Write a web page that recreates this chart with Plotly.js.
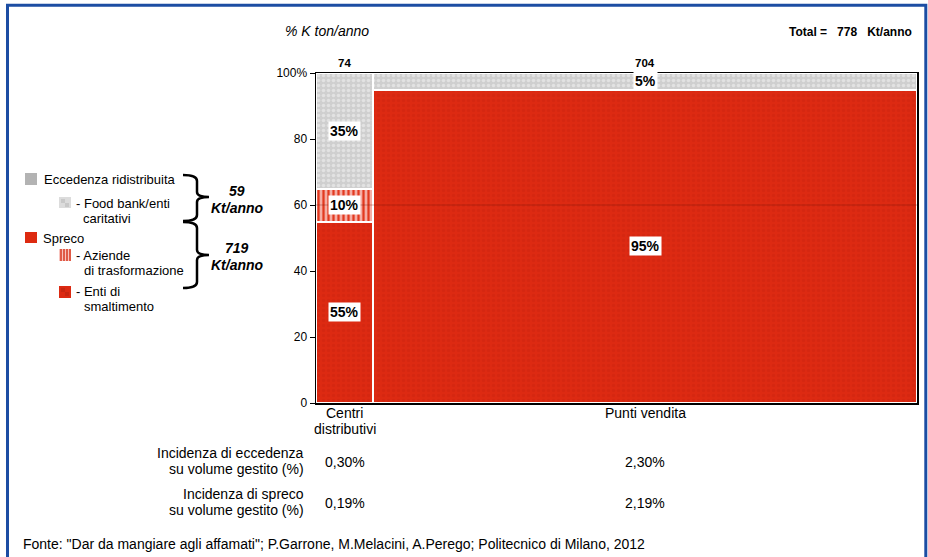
<!DOCTYPE html>
<html>
<head>
<meta charset="utf-8">
<script src="https://cdn.plot.ly/plotly-3.0.1.min.js"></script>
<style>html,body{margin:0;padding:0;background:#fff;}#chart{width:928px;height:557px;}</style>
</head>
<body>
<div id="chart"></div>
<script>
// ---- data ----
const categories = ['Centri<br>distributivi', 'Punti vendita'];
const volumes = [74, 704];                 // Kt/anno per channel (bar widths)
const smaltimento = [55, 95];              // % Enti di smaltimento
const trasformazione = [10, 0];            // % Aziende di trasformazione
const foodbank = [35, 5];                  // % Food bank/enti caritativi
const incidenzaEccedenza = ['0,30%', '2,30%'];
const incidenzaSpreco = ['0,19%', '2,19%'];
const eccedenzaTot = 59;
const sprecoTot = 719;

// ---- derived ----
const total = volumes.reduce((a, b) => a + b, 0);
const starts = [];
let acc = 0;
volumes.forEach(v => { starts.push(acc); acc += v; });
const centers = volumes.map((v, i) => starts[i] + v / 2);

const FONT = 'Liberation Sans, Arial, Helvetica, sans-serif';
const RED = '#dd2a12';

const L = 316, R = 917, T = 73, B = 403;
const px = x => (x - L) / (R - L);
const py = y => (B - y) / (B - T);

function barTrace(name, vals, pattern, color) {
  return {
    type: 'bar', name: name, x: centers, y: vals, width: volumes,
    marker: { color: color, line: { color: '#ffffff', width: 2 }, pattern: pattern },
    hoverinfo: 'skip', showlegend: false
  };
}

const traces = [
  barTrace('Enti di smaltimento', smaltimento,
    { shape: '.', bgcolor: RED, fgcolor: '#c8240e', fgopacity: 0.4, size: 5, solidity: 0.35 }, RED),
  barTrace('Aziende di trasformazione', trasformazione,
    { shape: '|', bgcolor: '#f5ada4', fgcolor: '#e2391f', fgopacity: 1, size: 5, solidity: 0.45 }, '#f5ada4'),
  barTrace('Food bank/enti caritativi', foodbank,
    { shape: '.', bgcolor: '#cfcfcf', fgcolor: '#e2e2e2', fgopacity: 1, size: 5, solidity: 0.4 }, '#cfcfcf')
];

const annotations = [];
function ann(x, y, text, o) {
  annotations.push(Object.assign({
    xref: 'paper', yref: 'paper', x: x, y: y, text: text, showarrow: false,
    xanchor: 'left', yanchor: 'middle', font: { family: FONT, size: 13, color: '#000' }
  }, o || {}));
}
function dataAnn(xv, ypix, text, size) {
  annotations.push({
    xref: 'x', yref: 'paper', x: xv, y: py(ypix), yanchor: 'middle', text: text,
    showarrow: false, font: { family: FONT, size: size || 14, color: '#000' }
  });
}

// segment labels
const series = [smaltimento, trasformazione, foodbank];
volumes.forEach((v, i) => {
  let base = 0;
  series.forEach(s => {
    const val = s[i];
    if (val > 0) {
      annotations.push({
        xref: 'x', yref: 'y', x: centers[i], y: base + val / 2, text: '<b>' + val + '%</b>',
        showarrow: false, bgcolor: '#ffffff', borderpad: 1,
        font: { family: FONT, size: 14, color: '#000' }
      });
    }
    base += val;
  });
  // volume on top
  annotations.push({
    xref: 'x', yref: 'y', x: centers[i], y: 100, yshift: 10, text: '<b>' + v + '</b>',
    showarrow: false, font: { family: FONT, size: 11.5, color: '#000' }
  });
  // category label (one annotation per line)
  categories[i].split('<br>').forEach((ln, k) => dataAnn(centers[i], 413 + 16 * k, ln));
  dataAnn(centers[i], 462, incidenzaEccedenza[i]);
  dataAnn(centers[i], 503, incidenzaSpreco[i]);
});

// row labels
const rowFont = { family: FONT, size: 14, color: '#000' };
ann(px(306), py(453), 'Incidenza di eccedenza', { xanchor: 'right', font: rowFont });
ann(px(306), py(469), 'su volume gestito (%)', { xanchor: 'right', font: rowFont });
ann(px(306), py(494), 'Incidenza di spreco', { xanchor: 'right', font: rowFont });
ann(px(306), py(510), 'su volume gestito (%)', { xanchor: 'right', font: rowFont });

// titles
ann(px(283), py(31), '% K ton/anno', { font: { family: FONT, size: 14, color: '#000', style: 'italic' } });
ann(px(914), py(32), '<b>Total =   ' + total + '   Kt/anno</b>', { xanchor: 'right', font: { family: FONT, size: 12, color: '#000' } });

// source
ann(px(21), py(544), 'Fonte: "Dar da mangiare agli affamati"; P.Garrone, M.Melacini, A.Perego; Politecnico di Milano, 2012', { font: { family: FONT, size: 14, color: '#000' } });

// legend texts
ann(px(42), py(179), 'Eccedenza ridistribuita');
ann(px(74), py(203), '- Food bank/enti');
ann(px(81), py(218), 'caritativi');
ann(px(41), py(238), 'Spreco');
ann(px(74), py(255), '- Aziende');
ann(px(82), py(270), 'di trasformazione');
ann(px(74), py(291), '- Enti di');
ann(px(82), py(306), 'smaltimento');

// brace totals
const bi = { family: FONT, size: 14, color: '#000' };
ann(px(237), py(191), '<b><i>' + eccedenzaTot + '</i></b>', { xanchor: 'center', font: bi });
ann(px(237), py(208), '<b><i>Kt/anno</i></b>', { xanchor: 'center', font: bi });
ann(px(237), py(248), '<b><i>' + sprecoTot + '</i></b>', { xanchor: 'center', font: bi });
ann(px(237), py(265), '<b><i>Kt/anno</i></b>', { xanchor: 'center', font: bi });

// shapes
const shapes = [];
function rect(x0, y0, x1, y1, fill, lineColor, lw) {
  shapes.push({ type: 'rect', xref: 'paper', yref: 'paper', x0: px(x0), x1: px(x1), y0: py(y1), y1: py(y0),
    fillcolor: fill, line: { color: lineColor || fill, width: lw || 0 }, layer: 'above' });
}
function line(x0, y0, x1, y1, color, w) {
  shapes.push({ type: 'line', xref: 'paper', yref: 'paper', x0: px(x0), x1: px(x1), y0: py(y0), y1: py(y1),
    line: { color: color, width: w }, layer: 'above' });
}
// legend swatches
rect(25, 173, 37, 185, '#b3b3b3');
rect(59, 197, 71, 208, '#dcdcdc');
rect(61, 199, 65, 203, '#c8c8c8'); rect(65, 203, 69, 207, '#c8c8c8');
rect(25, 232, 37, 243, '#dd2a10');
rect(59, 249, 71, 261, '#f8c4be');
[61, 64, 67, 70].forEach(x => line(x, 249, x, 261, '#d8371f', 1.5));
rect(59, 286, 71, 298, '#dc2a12');
rect(61, 288, 65, 292, '#c72610'); rect(65, 292, 69, 296, '#c72610');

// braces
function brace(xl, xm, xt, yt, ym, yb) {
  const P = (x, y) => px(x) + ',' + py(y);
  const path = 'M' + P(xl, yt) + ' Q' + P(xm, yt) + ' ' + P(xm, yt + 6) +
    ' L' + P(xm, ym - 5) + ' Q' + P(xm, ym) + ' ' + P(xt, ym) +
    ' Q' + P(xm, ym) + ' ' + P(xm, ym + 5) +
    ' L' + P(xm, yb - 6) + ' Q' + P(xm, yb) + ' ' + P(xl, yb);
  shapes.push({ type: 'path', xref: 'paper', yref: 'paper', path: path, line: { color: '#000', width: 2.5 }, layer: 'above' });
}
brace(183, 197, 209, 175, 197, 221);
brace(183, 197, 209, 222, 255, 288);

// faint line at 60
shapes.push({ type: 'line', xref: 'paper', yref: 'y', x0: 0, x1: 1, y0: 60, y1: 60,
  line: { color: 'rgba(110,20,10,0.35)', width: 1 }, layer: 'above' });

// outer blue frame
shapes.push({ type: 'rect', xref: 'paper', yref: 'paper', x0: px(7.5), x1: px(925.8), y0: py(570), y1: py(5.3),
  line: { color: '#1c4da3', width: 3 }, fillcolor: 'rgba(0,0,0,0)', layer: 'above' });

const layout = {
  width: 928, height: 557,
  margin: { l: L, r: 928 - R, t: T, b: 557 - B, pad: 0 },
  paper_bgcolor: '#ffffff', plot_bgcolor: '#ffffff',
  barmode: 'stack',
  showlegend: false,
  font: { family: FONT, color: '#000' },
  xaxis: { range: [0, total], showline: true, mirror: true, linecolor: '#000', linewidth: 1.5,
    showgrid: false, zeroline: false, showticklabels: false, ticks: '', fixedrange: true },
  yaxis: { range: [0, 100], showline: true, mirror: true, linecolor: '#000', linewidth: 1.5,
    showgrid: false, zeroline: false, ticks: 'outside', ticklen: 5, tickwidth: 1, tickcolor: '#000',
    tickvals: [0, 20, 40, 60, 80, 100], ticktext: ['0', '20', '40', '60', '80', '100%'],
    tickfont: { family: FONT, size: 12, color: '#000' }, fixedrange: true },
  annotations: annotations,
  shapes: shapes
};

Plotly.newPlot('chart', traces, layout, { displayModeBar: false, staticPlot: true });
</script>
</body>
</html>
